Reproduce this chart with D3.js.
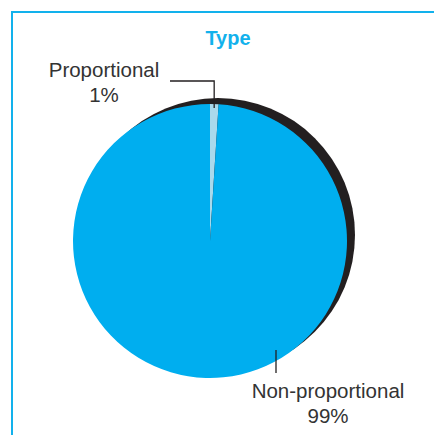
<!DOCTYPE html>
<html>
<head lang="en">
	<meta charset="UTF-8">
	<title>Type</title>
	<script src="https://cdn.jsdelivr.net/npm/d3@7/dist/d3.min.js"></script>
	<style>
		body { margin: 0; background: #fff; }
		text { font-family: "Liberation Sans", Arial, sans-serif; }
	</style>
</head>
<body>

<script>

	// data
	var categories = ["Proportional", "Non-proportional"];
	var shares = [1, 99];
	var shareLabels = ["1%", "99%"];

	var W = 434, H = 435;
	var cx = 210, cy = 241, R = 137;

	var svg = d3.select('body').append("svg")
			.attr("width", W).attr("height", H);

	// frame, open to the right and bottom
	svg.append("path")
			.attr("d", "M12," + H + " V12 H" + W)
			.style("fill", "none")
			.style("stroke", "#12b1ec")
			.style("stroke-width", 2);

	svg.append("text")
			.attr("x", 228).attr("y", 45)
			.attr("text-anchor", "middle")
			.style("font-size", "20px")
			.style("font-weight", "bold")
			.style("fill", "#12b1ec")
			.text("Type");

	var color = d3.scaleOrdinal()
			.domain(categories)
			.range(["#a9d9ec", "#00aeef"]);

	var pie = d3.pie().sort(null).value(function (d) { return d; });
	var arcs = pie(shares);

	var arc = d3.arc().innerRadius(0).outerRadius(R);

	var g = svg.append("g").attr("transform", "translate(" + cx + "," + cy + ")");

	// dark shadow disc behind the pie
	g.append("circle")
			.attr("cx", 8).attr("cy", -6).attr("r", R)
			.style("fill", "#231f20");

	g.selectAll("path.slice")
			.data(arcs)
			.enter().append("path")
			.attr("class", "slice")
			.attr("d", arc)
			.style("fill", function (d, i) { return color(categories[i]); });

	// leader for the small slice: from inside the slice up, then left
	var a0 = (arcs[0].startAngle + arcs[0].endAngle) / 2;
	var px = Math.sin(a0) * (R - 4), py = -Math.cos(a0) * (R - 4);
	g.append("path")
			.attr("d", "M" + px + "," + py + " V" + (81 - cy) + " H" + (170 - cx))
			.style("fill", "none")
			.style("stroke", "#231f20")
			.style("stroke-width", 1.3);

	// leader for the big slice
	svg.append("line")
			.attr("x1", 276).attr("y1", 350)
			.attr("x2", 276).attr("y2", 373)
			.style("stroke", "#231f20")
			.style("stroke-width", 1.3);

	var labelPos = [[104, 77], [328, 398]];

	labelPos.forEach(function (p, i) {
		var t = svg.append("text")
				.attr("text-anchor", "middle")
				.style("font-size", "20.5px")
				.style("fill", "#333");
		t.append("tspan").attr("x", p[0]).attr("y", p[1]).text(categories[i]);
		t.append("tspan").attr("x", p[0]).attr("y", p[1] + 25).text(shareLabels[i]);
	});

</script>

</body>
</html>
